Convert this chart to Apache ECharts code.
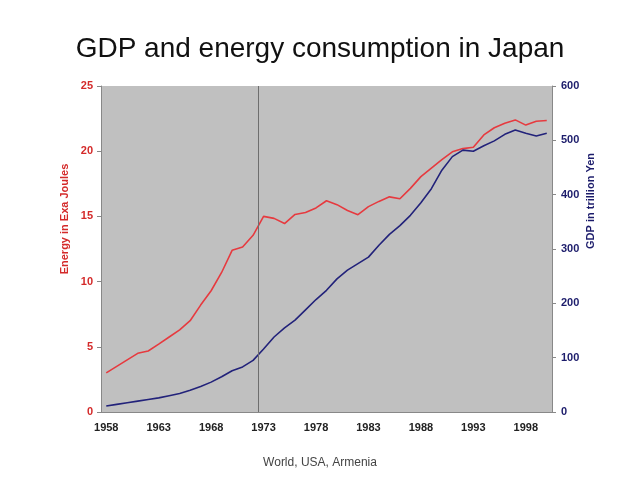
<!DOCTYPE html>
<html><head><meta charset="utf-8">
<script src="https://cdn.jsdelivr.net/npm/echarts@6/dist/echarts.min.js"></script>
<style>html,body{margin:0;padding:0;background:#fff}#c{width:640px;height:480px}</style>
</head><body><div id="c"></div>
<script>
const years = [];
for (let y = 1958; y <= 2000; y++) years.push(String(y));
const energy = [3.0,3.5,4.0,4.5,4.68,5.2,5.75,6.3,7.0,8.2,9.3,10.7,12.4,12.65,13.55,15.0,14.85,14.45,15.15,15.3,15.65,16.2,15.9,15.45,15.13,15.75,16.15,16.5,16.35,17.15,18.05,18.7,19.35,19.95,20.2,20.3,21.25,21.8,22.15,22.4,22.0,22.3,22.35];
const gdp = [11,14,17,20,23,26,30,34,40,47,55,65,76,83,95,116,138,155,169,188,207,224,245,261,273,285,307,327,343,362,385,411,445,470,482,480,490,499,511,519,513,508,513];
const oilShockYear = 1972.5; // boundary between 1972 and 1973

const RED = '#d42a2a', NAVY = '#1c1c6b', AXIS = '#888';
const chart = echarts.init(document.getElementById('c'), null, {renderer: 'canvas'});
chart.setOption({
  animation: false,
  backgroundColor: '#fff',
  title: {
    text: 'GDP and energy consumption in Japan',
    left: 'center', top: 30,
    textStyle: {fontFamily: 'Liberation Sans, Arial', fontSize: 28, fontWeight: 'normal', color: '#111'}
  },
  graphic: [
    {type: 'text', left: 'center', top: 457, style: {text: 'World, USA, Armenia', font: '12px "Liberation Sans", Arial', fill: '#444'}},
    {type: 'text', x: 65, y: 219, rotation: Math.PI / 2, style: {text: 'Energy in Exa Joules', font: 'bold 11px "Liberation Sans", Arial', fill: RED, align: 'center', verticalAlign: 'middle'}},
    {type: 'text', x: 591, y: 201, rotation: Math.PI / 2, style: {text: 'GDP in trillion Yen', font: 'bold 11px "Liberation Sans", Arial', fill: NAVY, align: 'center', verticalAlign: 'middle'}}
  ],
  grid: {left: 101, top: 86, width: 451, height: 326, show: true, backgroundColor: '#c0c0c0', borderWidth: 0},
  xAxis: [{
    type: 'category', data: years, boundaryGap: true,
    axisLine: {lineStyle: {color: AXIS, width: 1}},
    axisTick: {interval: 4, length: 4, lineStyle: {color: AXIS}},
    axisLabel: {interval: 4, margin: 10, color: '#222', fontFamily: 'Liberation Sans, Arial', fontSize: 11, fontWeight: 'bold'},
    splitLine: {show: false}
  }, {
    type: 'value', min: 1957.5, max: 2000.5, show: false
  }],
  yAxis: [
    {
      type: 'value', min: 0, max: 25, interval: 5, position: 'left',
      axisLine: {show: true, lineStyle: {color: AXIS}},
      axisTick: {show: true, length: 4, lineStyle: {color: AXIS}},
      axisLabel: {margin: 8, color: RED, fontFamily: 'Liberation Sans, Arial', fontSize: 11, fontWeight: 'bold'},
      splitLine: {show: false}
    },
    {
      type: 'value', min: 0, max: 600, interval: 100, position: 'right',
      axisLine: {show: true, lineStyle: {color: AXIS}},
      axisTick: {show: true, length: 4, lineStyle: {color: AXIS}},
      axisLabel: {margin: 9, color: NAVY, fontFamily: 'Liberation Sans, Arial', fontSize: 11, fontWeight: 'bold'},
      splitLine: {show: false}
    }
  ],
  series: [
    {name: 'marker', type: 'line', xAxisIndex: 1, yAxisIndex: 0, data: [[oilShockYear, 0]], showSymbol: false, lineStyle: {width: 0}, silent: true, z: 1,
     markLine: {silent: true, symbol: 'none', label: {show: false}, lineStyle: {color: '#6e6e6e', type: 'solid', width: 1}, data: [{xAxis: oilShockYear}]}},
    {name: 'Energy', type: 'line', yAxisIndex: 0, data: energy, showSymbol: false, lineStyle: {color: '#e63a3f', width: 1.6}, itemStyle: {color: '#e63a3f'}, z: 3},
    {name: 'GDP', type: 'line', yAxisIndex: 1, data: gdp, showSymbol: false, lineStyle: {color: '#22227a', width: 1.6}, itemStyle: {color: '#22227a'}, z: 3}
  ]
});
</script></body></html>
